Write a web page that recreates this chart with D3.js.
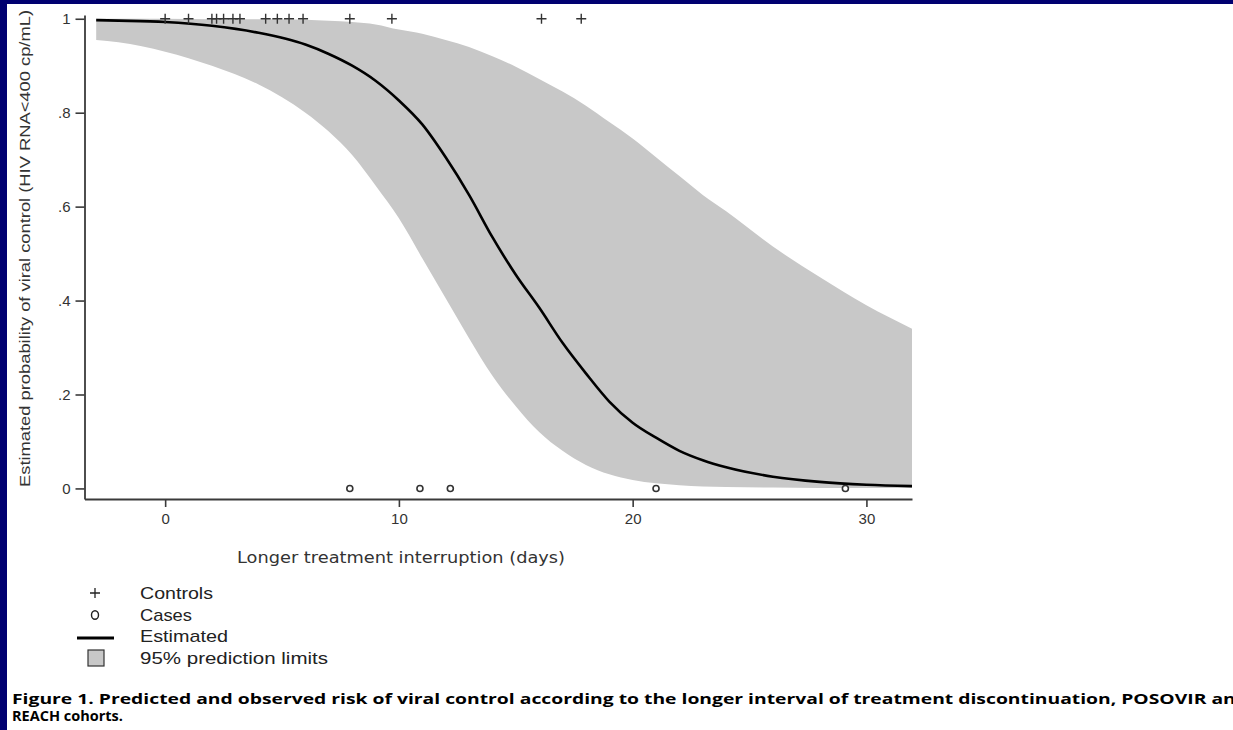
<!DOCTYPE html>
<html>
<head>
<meta charset="utf-8">
<script src="https://cdn.jsdelivr.net/npm/d3@7/dist/d3.min.js"></script>
<style>
  html, body { margin: 0; padding: 0; background: #ffffff; overflow: hidden; }
  svg { display: block; }
</style>
</head>
<body>
<svg id="chart" width="1233" height="730"></svg>
<script>
// ---------- data ----------
const days      = [-2.95, -2, 0, 2, 4, 6, 7, 8, 9, 10, 11, 12, 13, 14, 15, 16, 17, 18, 19, 20, 21, 22, 23, 24, 26, 28, 30, 31.95];
const estimated = [0.997, 0.996, 0.993, 0.985, 0.97, 0.945, 0.925, 0.9, 0.868, 0.826, 0.775, 0.705, 0.625, 0.535, 0.455, 0.385, 0.31, 0.245, 0.185, 0.14, 0.108, 0.08, 0.06, 0.045, 0.025, 0.014, 0.008, 0.005];
const lowerLim  = [0.955, 0.95, 0.93, 0.9, 0.86, 0.8, 0.76, 0.71, 0.645, 0.575, 0.49, 0.405, 0.32, 0.24, 0.175, 0.12, 0.08, 0.05, 0.03, 0.018, 0.011, 0.007, 0.004, 0.003, 0.002, 0.001, 0.001, 0.001];
const upperLim  = [1.0, 1.0, 1.0, 0.999, 0.999, 0.998, 0.996, 0.993, 0.988, 0.977, 0.968, 0.955, 0.94, 0.92, 0.898, 0.872, 0.845, 0.815, 0.78, 0.745, 0.705, 0.665, 0.625, 0.59, 0.515, 0.45, 0.39, 0.34];
const controlDays = [0, 1, 2.0, 2.2, 2.5, 2.9, 3.2, 4.3, 4.8, 5.3, 5.9, 7.9, 9.7, 16.1, 17.8];
const caseDays    = [7.9, 10.9, 12.2, 21.0, 29.1];
const xTicks = [0, 10, 20, 30];
const yTicks = [0, 0.2, 0.4, 0.6, 0.8, 1];
const yTickLabels = ["0", ".2", ".4", ".6", ".8", "1"];
const legendLabels = ["Controls", "Cases", "Estimated", "95% prediction limits"];
const xTitle = "Longer treatment interruption (days)";
const yTitle = "Estimated probability of viral control (HIV RNA<400 cp/mL)";
const captionLines = [
  "Figure 1. Predicted and observed risk of viral control according to the longer interval of treatment discontinuation, POSOVIR and",
  "REACH cohorts."
];

// ---------- layout ----------
const svg = d3.select("#chart");
const NAVY = "#000070";
const BAND = "#c8c8c8";
const AXIS = "#3a3a3a";

svg.append("rect").attr("x", 0).attr("y", 0).attr("width", 1233).attr("height", 730).attr("fill", "#ffffff");
svg.append("rect").attr("x", 0).attr("y", 0).attr("width", 1233).attr("height", 4).attr("fill", NAVY);
svg.append("rect").attr("x", 0).attr("y", 0).attr("width", 7).attr("height", 730).attr("fill", NAVY);

const x = d3.scaleLinear().domain([-3.45, 31.95]).range([84.5, 912]);
const y = d3.scaleLinear().domain([-0.0225, 1.008]).range([499, 15]);

const rows = days.map((d, i) => ({ d, est: estimated[i], lo: lowerLim[i], hi: upperLim[i] }));

// band
const area = d3.area()
  .x(r => x(r.d))
  .y0(r => y(r.lo))
  .y1(r => y(r.hi))
  .curve(d3.curveMonotoneX);
svg.append("path").datum(rows).attr("d", area).attr("fill", BAND);

// estimated line
const line = d3.line()
  .x(r => x(r.d))
  .y(r => y(r.est))
  .curve(d3.curveMonotoneX);
svg.append("path").datum(rows).attr("d", line)
  .attr("fill", "none").attr("stroke", "#000").attr("stroke-width", 2.6)
  .attr("stroke-linejoin", "round");

// axes
const yAxis = d3.axisLeft(y).tickValues(yTicks)
  .tickFormat((d, i) => yTickLabels[i]).tickSizeInner(9).tickSizeOuter(0).tickPadding(5);
const gy = svg.append("g").attr("transform", `translate(${x.range()[0]},0)`).call(yAxis);

const xAxis = d3.axisBottom(x).tickValues(xTicks).tickFormat(d3.format("d"))
  .tickSizeInner(8).tickSizeOuter(0).tickPadding(6);
const gx = svg.append("g").attr("transform", `translate(0,${y.range()[0]})`).call(xAxis);

[gx, gy].forEach(g => {
  g.select(".domain").attr("stroke", AXIS).attr("stroke-width", 1.8);
  g.selectAll(".tick line").attr("stroke", AXIS).attr("stroke-width", 1.6);
  g.selectAll(".tick text").attr("fill", "#333").style("font-family", "'Liberation Sans', Arial, sans-serif").style("font-size", "15px");
});

// control markers (+) at y=1
const plusSize = 5;
svg.append("g").selectAll("path").data(controlDays).join("path")
  .attr("d", d => `M${x(d) - plusSize},${y(1)}H${x(d) + plusSize}M${x(d)},${y(1) - plusSize}V${y(1) + plusSize}`)
  .attr("stroke", "#333").attr("stroke-width", 1.4).attr("fill", "none");

// case markers (o) at y=0
svg.append("g").selectAll("circle").data(caseDays).join("circle")
  .attr("cx", d => x(d)).attr("cy", y(0)).attr("r", 3)
  .attr("fill", "#fff").attr("stroke", "#333").attr("stroke-width", 1.6);

// axis titles
svg.append("text")
  .attr("x", 237).attr("y", 563)
  .attr("textLength", 328).attr("lengthAdjust", "spacingAndGlyphs")
  .attr("fill", "#333")
  .style("font-family", "'DejaVu Sans', sans-serif").style("font-size", "15px")
  .text(xTitle);

svg.append("text")
  .attr("transform", "translate(30,487) rotate(-90)")
  .attr("x", 0).attr("y", 0)
  .attr("textLength", 477).attr("lengthAdjust", "spacingAndGlyphs")
  .attr("fill", "#333")
  .style("font-family", "'Liberation Sans', Arial, sans-serif").style("font-size", "15px")
  .text(yTitle);

// legend
const legend = svg.append("g");
const legY = [593, 615, 636, 658];
const legLen = [73, 52, 88, 188];
legend.selectAll("text").data(legendLabels).join("text")
  .attr("x", 140).attr("y", (d, i) => legY[i] + 6)
  .attr("textLength", (d, i) => legLen[i]).attr("lengthAdjust", "spacingAndGlyphs")
  .attr("fill", "#222")
  .style("font-family", "'Liberation Sans Narrow', 'Liberation Sans', Arial, sans-serif").style("font-size", "17px")
  .text(d => d);
legend.append("path")
  .attr("d", `M${95 - 5},${legY[0]}H${95 + 5}M95,${legY[0] - 5}V${legY[0] + 5}`)
  .attr("stroke", "#222").attr("stroke-width", 1.3);
legend.append("ellipse").attr("cx", 95).attr("cy", legY[1]).attr("rx", 3.5).attr("ry", 4.3)
  .attr("fill", "none").attr("stroke", "#222").attr("stroke-width", 1.4);
legend.append("line").attr("x1", 77).attr("x2", 114).attr("y1", legY[2] + 2).attr("y2", legY[2] + 2)
  .attr("stroke", "#000").attr("stroke-width", 3.2);
legend.append("rect").attr("x", 88).attr("y", 650).attr("width", 16).attr("height", 16)
  .attr("fill", BAND).attr("stroke", "#333").attr("stroke-width", 1.2);

// caption
svg.append("g").selectAll("text").data(captionLines).join("text")
  .attr("x", 12).attr("y", (d, i) => 704 + i * 17)
  .attr("textLength", (d, i) => i === 0 ? 1236 : null)
  .attr("lengthAdjust", "spacingAndGlyphs")
  .attr("fill", "#000")
  .style("font-family", "'Open Sans', 'DejaVu Sans', sans-serif").style("font-size", "14.5px").style("font-weight", "bold")
  .text(d => d);
</script>
</body>
</html>
